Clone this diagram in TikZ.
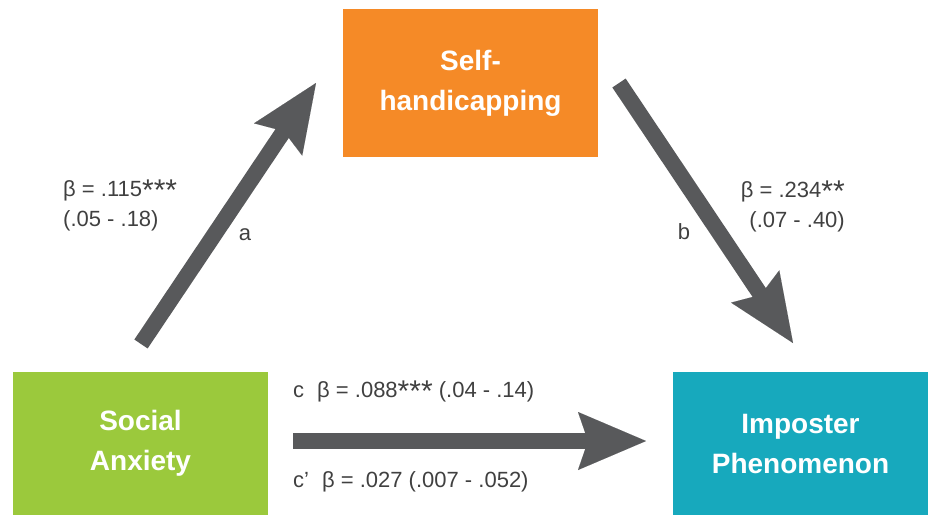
\documentclass[tikz,border=0pt]{standalone}
\usepackage{fontspec}
\setmainfont{Liberation Sans}
\usetikzlibrary{arrows.meta}
\definecolor{orangebox}{HTML}{F58A27}
\definecolor{greenbox}{HTML}{9BC93C}
\definecolor{tealbox}{HTML}{17A9BD}
\definecolor{arrowgray}{HTML}{58595B}
\definecolor{labelgray}{HTML}{404040}
\newcommand{\bigst}{\raisebox{-4pt}{\fontsize{30}{30}\selectfont *}}
\tikzset{
  varbox/.style={minimum width=255pt, inner sep=0pt, text=white, align=center,
    font=\fontsize{28}{40}\selectfont\bfseries},
  bigarrow/.style={draw=arrowgray, line width=16pt, line cap=butt,
    -{Stealth[length=68pt,width=58pt,inset=10pt,line width=0.01pt,color=arrowgray]}},
  lbl/.style={text=labelgray, inner sep=0pt, font=\fontsize{22}{30}\selectfont}
}
\begin{document}
\begin{tikzpicture}[x=1pt,y=-1pt]
\useasboundingbox (0,0) rectangle (933,515);
% boxes
\node[varbox, fill=orangebox, minimum height=148pt] (sh) at (470.5,83) {Self-\\handicapping};
\node[varbox, fill=greenbox, minimum height=143pt] (sa) at (140.5,443.5) {Social\\Anxiety};
\node[varbox, fill=tealbox, minimum height=143pt] (ip) at (800.5,443.5) {Imposter\\Phenomenon};
% arrow end points
\coordinate (a1) at (141,344);
\coordinate (a2) at (316,83);
\coordinate (b1) at (619,83);
\coordinate (b2) at (793,343);
\coordinate (c1) at (293,441);
\coordinate (c2) at (646,441);
\draw[bigarrow] (a1) -- (a2);
\draw[bigarrow] (b1) -- (b2);
\draw[bigarrow] (c1) -- (c2);
% labels
\node[lbl, anchor=base west] (la1) at (63,196) {β = .115\bigst\bigst\bigst};
\node[lbl, anchor=base west] (la2) at (63,226) {(.05 - .18)};
\node[lbl, anchor=base] (la) at (245,240) {a};
\node[lbl, anchor=base east] (lb1) at (845,197) {β = .234\bigst\bigst};
\node[lbl, anchor=base east] (lb2) at (845,227) {(.07 - .40)};
\node[lbl, anchor=base] (lb) at (684,239) {b};
\node[lbl, anchor=base west] (lc) at (293,397) {c\hspace{13pt}β = .088\bigst\bigst\bigst{} (.04 - .14)};
\node[lbl, anchor=base west] (lcp) at (293,487) {c’\hspace{13pt}β = .027 (.007 - .052)};
\end{tikzpicture}
\end{document}
